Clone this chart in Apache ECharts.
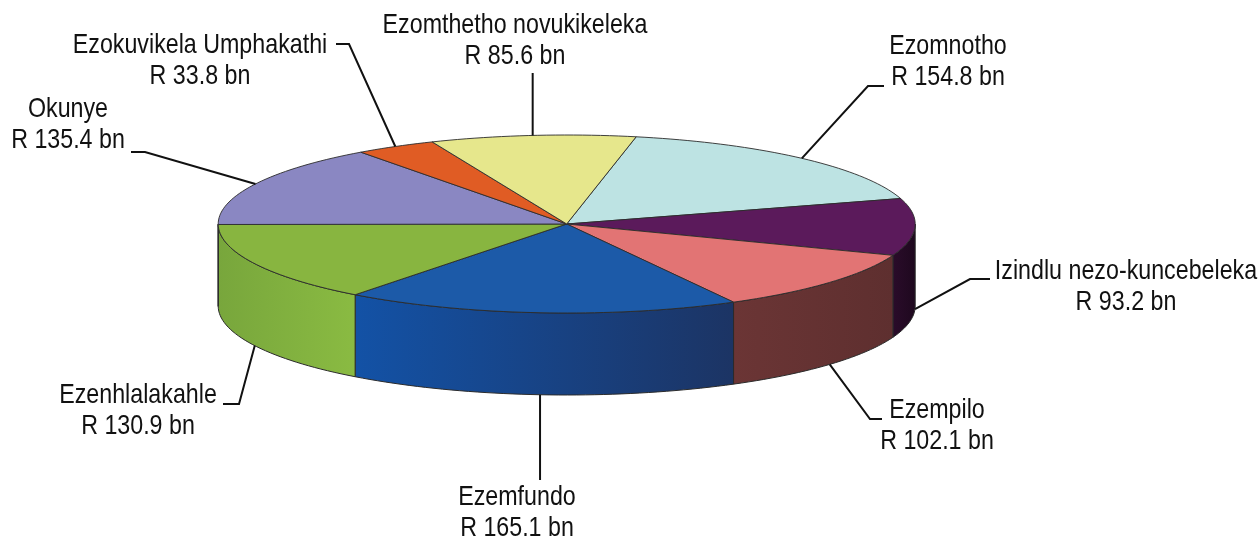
<!DOCTYPE html>
<html>
<head>
<meta charset="utf-8">
<script src="https://cdn.jsdelivr.net/npm/echarts@6/dist/echarts.min.js"></script>
<style>
html, body { margin: 0; padding: 0; background: #fff; }
#chart { width: 1259px; height: 544px; }
</style>
</head>
<body>
<div id="chart"></div>
<script>
// slices, clockwise from the top-right
var names = ['Ezomnotho', 'Izindlu nezo-kuncebeleka', 'Ezempilo', 'Ezemfundo',
    'Ezenhlalakahle', 'Okunye', 'Ezokuvikela Umphakathi', 'Ezomthetho novukikeleka'];
var values = [154.8, 93.2, 102.1, 165.1, 130.9, 135.4, 33.8, 85.6];

var topColors = ['#bde3e3', '#5b1a5b', '#e27474', '#1c5aa8', '#88b540', '#8a87c2', '#e05c24', '#e6e78c'];
var sideColors = [
    ['#9cc0c0', '#8aa9a9'], ['#2a0c2a', '#1e081e'], ['#6b3535', '#5e2f2f'], ['#1352a6', '#1c3464'],
    ['#78a63c', '#8abb42'], ['#6d6aa0', '#6d6aa0'], ['#b84a1c', '#b84a1c'], ['#c2c373', '#c2c373']
];

// label block centre and leader path (elbow, end)
var labelPos = [[948, 62], [1126, 287], [937, 426], [517, 513], [138, 411], [68, 125], [200, 61], [515, 41]];
var leaderPath = [
    [[868, 86], [884, 86]],
    [[970, 279], [990, 279]],
    [[870, 419], [882, 419]],
    [[null, 480]],
    [[239, 404], [223, 404]],
    [[145, 152], [131, 152]],
    [[349, 44], [336, 44]],
    [[null, 73]]
];

var cx = 566.7, cy = 224, rx = 348.5, ry = 89, depth = 82;
var startDeg = -78.5;

var total = values.reduce(function (a, b) { return a + b; }, 0);
var angles = [startDeg];
values.forEach(function (v) {
    angles.push(angles[angles.length - 1] + v / total * 360);
});

function pt(deg, dy) {
    var r = deg * Math.PI / 180;
    return [cx + rx * Math.cos(r), cy + ry * Math.sin(r) + (dy || 0)];
}

function arc(a0, a1, dy) {
    var pts = [];
    var n = Math.max(2, Math.ceil(Math.abs(a1 - a0) / 1.5));
    for (var i = 0; i <= n; i++) {
        pts.push(pt(a0 + (a1 - a0) * i / n, dy));
    }
    return pts;
}

function renderSlice(params, api) {
    var i = params.dataIndex;
    var a0 = angles[i], a1 = angles[i + 1];
    var children = [];

    // outer wall, only the front half shows
    var s = Math.max(a0, 0), e = Math.min(a1, 180);
    if (e > s) {
        var wall = arc(s, e, 0).concat(arc(e, s, depth));
        children.push({
            type: 'polygon',
            z2: 1,
            shape: { points: wall },
            style: {
                fill: new echarts.graphic.LinearGradient(0, 0, 1, 0, [
                    { offset: 0, color: sideColors[i][0] },
                    { offset: 1, color: sideColors[i][1] }
                ]),
                stroke: '#2b2b2b',
                lineWidth: 1
            }
        });
    }

    // top face
    children.push({
        type: 'polygon',
        z2: 5,
        shape: { points: [[cx, cy]].concat(arc(a0, a1, 0)) },
        style: { fill: topColors[i], stroke: '#2b2b2b', lineWidth: 0.9 }
    });

    // leader line from the middle of the slice edge
    var mid = (a0 + a1) / 2;
    var m = ((mid % 360) + 360) % 360;
    var anchor = pt(mid, (m > 0 && m < 180) ? depth : 0);
    var line = [anchor];
    leaderPath[i].forEach(function (p) {
        line.push([p[0] == null ? anchor[0] : p[0], p[1]]);
    });
    children.push({
        type: 'polyline',
        z2: 8,
        shape: { points: line },
        style: { stroke: '#111', lineWidth: 2, fill: null }
    });

    // narrow label: Liberation Sans squeezed to an Arial Narrow width
    children.push({
        type: 'text',
        z2: 10,
        x: labelPos[i][0],
        y: labelPos[i][1],
        scaleX: 0.83,
        style: {
            text: names[i] + '\nR ' + api.value(1).toFixed(1) + ' bn',
            align: 'center',
            verticalAlign: 'middle',
            fontFamily: '"Liberation Sans", Arial, sans-serif',
            fontSize: 28,
            lineHeight: 31,
            fill: '#111'
        }
    });

    return { type: 'group', children: children };
}

var chart = echarts.init(document.getElementById('chart'));
chart.setOption({
    backgroundColor: '#fff',
    animation: false,
    series: [{
        type: 'custom',
        coordinateSystem: 'none',
        renderItem: renderSlice,
        data: values.map(function (v, i) { return [i, v]; })
    }]
});
</script>
</body>
</html>
